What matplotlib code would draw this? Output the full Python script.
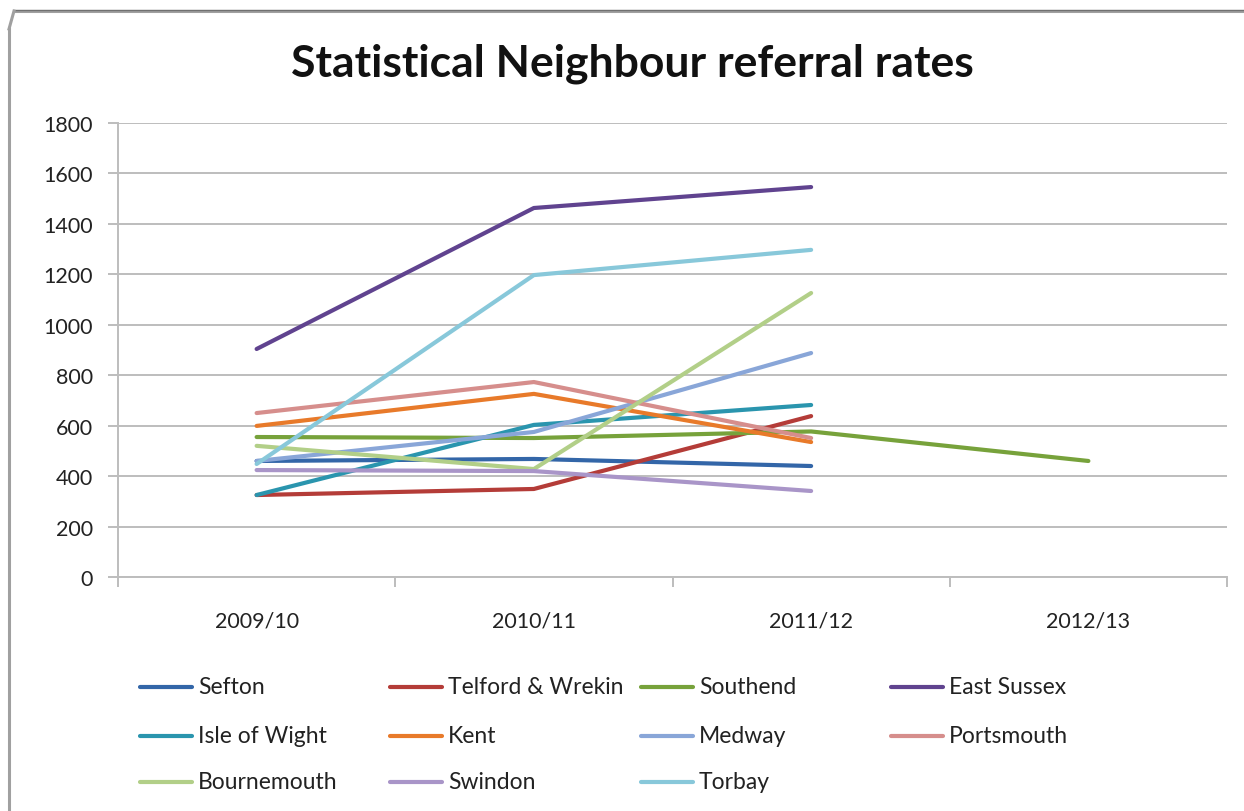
import matplotlib
matplotlib.use("Agg")
import matplotlib.pyplot as plt
from matplotlib.lines import Line2D
import numpy as np

categories = ["2009/10", "2010/11", "2011/12", "2012/13"]
nan = np.nan
series_names = ["Sefton", "Telford & Wrekin", "Southend", "East Sussex",
                "Isle of Wight", "Kent", "Medway", "Portsmouth",
                "Bournemouth", "Swindon", "Torbay"]
sefton = [460, 468, 440, nan]
telford = [325, 349, 638, nan]
southend = [555, 551, 577, 460]
east_sussex = [904, 1463, 1546, nan]
isle_of_wight = [325, 603, 682, nan]
kent = [599, 726, 535, nan]
medway = [460, 575, 888, nan]
portsmouth = [650, 773, 551, nan]
bournemouth = [520, 428, 1126, nan]
swindon = [424, 420, 341, nan]
torbay = [448, 1197, 1297, nan]
series_values = [sefton, telford, southend, east_sussex, isle_of_wight, kent,
                 medway, portsmouth, bournemouth, swindon, torbay]
colors = ["#3366A8", "#B43C38", "#77A23B", "#60438F", "#2A95AE", "#E87A2A",
          "#89A6D8", "#D68E8C", "#B2CF88", "#A995C8", "#88C8DA"]
yticks = [0, 200, 400, 600, 800, 1000, 1200, 1400, 1600, 1800]

plt.rcParams['font.family'] = ['Lato', 'DejaVu Sans']

W, H = 1244, 812
fig = plt.figure(figsize=(W / 100, H / 100), dpi=100)

def fx(px):
    return px / W
def fy(py):
    return 1 - py / H

# outer frame
fig.add_artist(Line2D([fx(14), fx(1250)], [fy(12), fy(12)], color="#A0A0A0", lw=2.2,
                      transform=fig.transFigure))
fig.add_artist(Line2D([fx(14), fx(1250)], [fy(10.5), fy(10.5)], color="#707070", lw=1.0,
                      transform=fig.transFigure))
fig.add_artist(Line2D([fx(9), fx(9)], [fy(30), fy(820)], color="#A0A0A0", lw=2.2,
                      transform=fig.transFigure))
fig.add_artist(Line2D([fx(9), fx(14)], [fy(30), fy(12)], color="#A0A0A0", lw=2.2,
                      transform=fig.transFigure))

ax = fig.add_axes([fx(118), fy(578), fx(1227) - fx(118), fy(124) - fy(578)])
x = np.arange(len(categories))
for name, vals, c in zip(series_names, series_values, colors):
    ax.plot(x, vals, color=c, lw=3.0, solid_capstyle="round", label=name, zorder=3)

ax.set_xlim(-0.5, len(categories) - 0.5)
ax.set_ylim(0, 1800)
ax.set_yticks(yticks)
ax.set_yticklabels([str(v) for v in yticks], fontsize=15.5, color="#222222")
ax.yaxis.grid(True, color="#BDBDBD", lw=1.4, zorder=0)
ax.set_axisbelow(True)
ax.set_xticks(x)
ax.set_xticklabels(categories, fontsize=15.5, color="#222222")
ax.tick_params(axis="x", length=0, pad=24)
ax.set_xticks(np.arange(-0.5, len(categories)), minor=True)
ax.tick_params(axis="x", which="minor", length=7, color="#BDBDBD", width=1.4)
ax.tick_params(axis="y", length=7, color="#BDBDBD", width=1.4, pad=11)
for s in ["top", "right"]:
    ax.spines[s].set_visible(False)
for s in ["left", "bottom"]:
    ax.spines[s].set_color("#BDBDBD")
    ax.spines[s].set_linewidth(1.4)

fig.text(fx(632), fy(64), "Statistical Neighbour referral rates", ha="center", va="center",
         fontsize=32, fontweight="bold", color="#111111")

# legend (row-wise layout as in the original)
col_x = [140, 390, 641, 891]
row_y = [688, 737, 783]
for i, (name, c) in enumerate(zip(series_names, colors)):
    r, cc = divmod(i, 4)
    x0 = col_x[cc]
    y0 = row_y[r]
    fig.add_artist(Line2D([fx(x0), fx(x0 + 52)], [fy(y0), fy(y0)], color=c, lw=3.0,
                          solid_capstyle="round", transform=fig.transFigure))
    fig.text(fx(x0 + 58), fy(y0), name, ha="left", va="center", fontsize=16.5, color="#222222")

fig.savefig("out.png", dpi=100)
